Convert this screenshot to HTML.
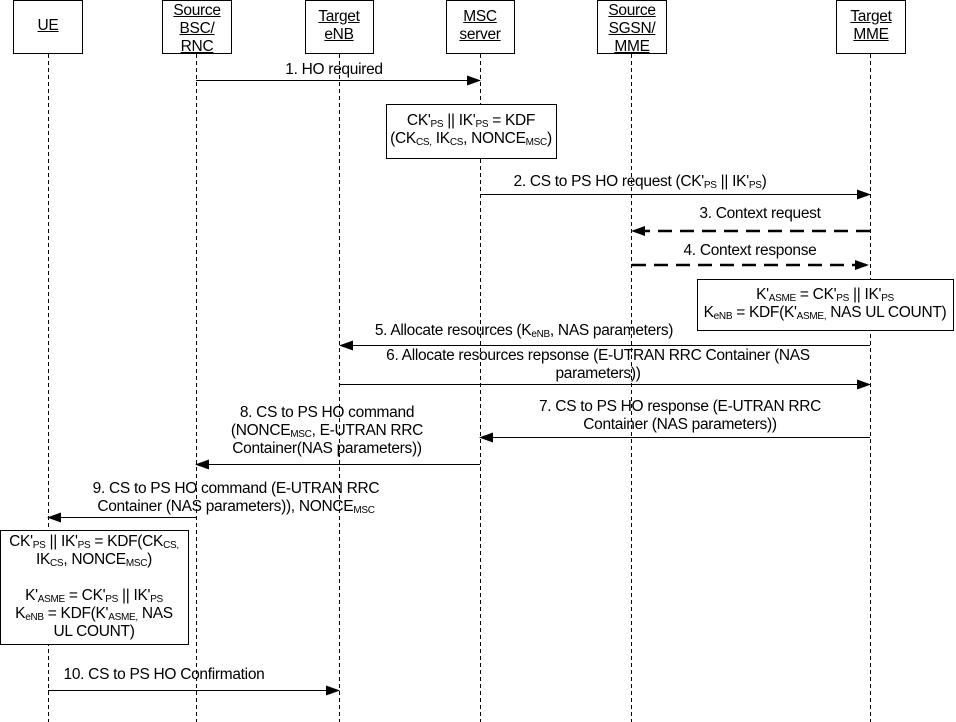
<!DOCTYPE html>
<html><head><meta charset="utf-8"><style>
body{margin:0;width:956px;height:722px;background:#fff;position:relative;overflow:hidden;font-family:"Liberation Sans",Arial,sans-serif;font-size:15.5px;color:#000;}
.t{position:absolute;white-space:nowrap;text-align:center;line-height:18px;letter-spacing:-0.3px;transform:translateX(-50%);}
.h{position:absolute;text-align:center;line-height:18px;text-decoration:underline;letter-spacing:-0.3px;transform:translateX(-50%);}
sub{font-size:10px;vertical-align:-2px;line-height:0;}
svg{position:absolute;left:0;top:0;}
</style></head><body>
<svg width="956" height="722">
<defs>
<marker id="a" markerWidth="14" markerHeight="10" refX="13" refY="5" orient="auto" markerUnits="userSpaceOnUse"><path d="M0,0 L14,5 L0,10 z" fill="#000"/></marker>
</defs>
<g fill="#fff" stroke="#000" stroke-width="1">
<rect x="13.5" y="0.5" width="69" height="53"/>
<rect x="162.5" y="0.5" width="69" height="53"/>
<rect x="305.5" y="0.5" width="68" height="53"/>
<rect x="446.5" y="0.5" width="68" height="53"/>
<rect x="597.5" y="0.5" width="69" height="53"/>
<rect x="836.5" y="0.5" width="69" height="53"/>
</g>
<g stroke="#000" stroke-width="1" stroke-dasharray="4,3">
<line x1="48.5" y1="54" x2="48.5" y2="722"/>
<line x1="196.5" y1="54" x2="196.5" y2="722"/>
<line x1="339.5" y1="54" x2="339.5" y2="722"/>
<line x1="480.5" y1="54" x2="480.5" y2="722"/>
<line x1="631.5" y1="54" x2="631.5" y2="722"/>
<line x1="870.5" y1="54" x2="870.5" y2="722"/>
</g>
<g fill="#fff" stroke="#000">
<rect x="386.5" y="104.5" width="170" height="54"/>
<rect x="697.5" y="279.5" width="256" height="51"/>
<rect x="0.5" y="530.5" width="188" height="114"/>
</g>
<g stroke="#000" stroke-width="1" marker-end="url(#a)">
<line x1="196" y1="80.5" x2="480" y2="80.5"/>
<line x1="480" y1="194.5" x2="870" y2="194.5"/>
<line x1="870" y1="345.5" x2="340" y2="345.5"/>
<line x1="340" y1="384.5" x2="870" y2="384.5"/>
<line x1="870" y1="437.5" x2="480" y2="437.5"/>
<line x1="480" y1="464.5" x2="196" y2="464.5"/>
<line x1="196" y1="517.5" x2="48" y2="517.5"/>
<line x1="48" y1="690.5" x2="339" y2="690.5"/>
</g>
<g stroke="#000" stroke-width="2.5" stroke-dasharray="14,8" marker-end="url(#a)">
<line x1="870" y1="231" x2="632" y2="231"/>
<line x1="632" y1="265" x2="868" y2="265"/>
</g>
</svg>
<div class="h" style="left:48px;top:17px">UE</div>
<div class="h" style="left:197px;top:2px">Source<br>BSC/<br>RNC</div>
<div class="h" style="left:339px;top:8px">Target<br>eNB</div>
<div class="h" style="left:480px;top:8px">MSC<br>server</div>
<div class="h" style="left:632px;top:2px">Source<br>SGSN/<br>MME</div>
<div class="h" style="left:871px;top:8px">Target<br>MME</div>

<div class="t" style="left:334px;top:61px">1. HO required</div>
<div class="t" style="left:471px;top:112px">CK'<sub>PS</sub> || IK'<sub>PS</sub> = KDF<br>(CK<sub>CS,</sub> IK<sub>CS</sub>, NONCE<sub>MSC</sub>)</div>
<div class="t" style="left:640px;top:173px">2. CS to PS HO request (CK'<sub>PS</sub> || IK'<sub>PS</sub>)</div>
<div class="t" style="left:760px;top:205px">3. Context request</div>
<div class="t" style="left:750px;top:242px">4. Context response</div>
<div class="t" style="left:825px;top:286px">K'<sub>ASME</sub> = CK'<sub>PS</sub> || IK'<sub>PS</sub><br>K<sub>eNB</sub> = KDF(K'<sub>ASME,</sub> NAS UL COUNT)</div>
<div class="t" style="left:524px;top:322px">5. Allocate resources (K<sub>eNB</sub>, NAS parameters)</div>
<div class="t" style="left:598px;top:347px">6. Allocate resources repsonse (E-UTRAN RRC Container (NAS<br>parameters))</div>
<div class="t" style="left:680px;top:398px">7. CS to PS HO response (E-UTRAN RRC<br>Container (NAS parameters))</div>
<div class="t" style="left:327px;top:404px">8. CS to PS HO command<br>(NONCE<sub>MSC</sub>, E-UTRAN RRC<br>Container(NAS parameters))</div>
<div class="t" style="left:236px;top:480px">9. CS to PS HO command (E-UTRAN RRC<br>Container (NAS parameters)), NONCE<sub>MSC</sub></div>
<div class="t" style="left:94px;top:533px">CK'<sub>PS</sub> || IK'<sub>PS</sub> = KDF(CK<sub>CS,</sub><br>IK<sub>CS</sub>, NONCE<sub>MSC</sub>)<br>&nbsp;<br>K'<sub>ASME</sub> = CK'<sub>PS</sub> || IK'<sub>PS</sub><br>K<sub>eNB</sub> = KDF(K'<sub>ASME,</sub> NAS<br>UL COUNT)</div>
<div class="t" style="left:164px;top:666px">10. CS to PS HO Confirmation</div>
</body></html>
